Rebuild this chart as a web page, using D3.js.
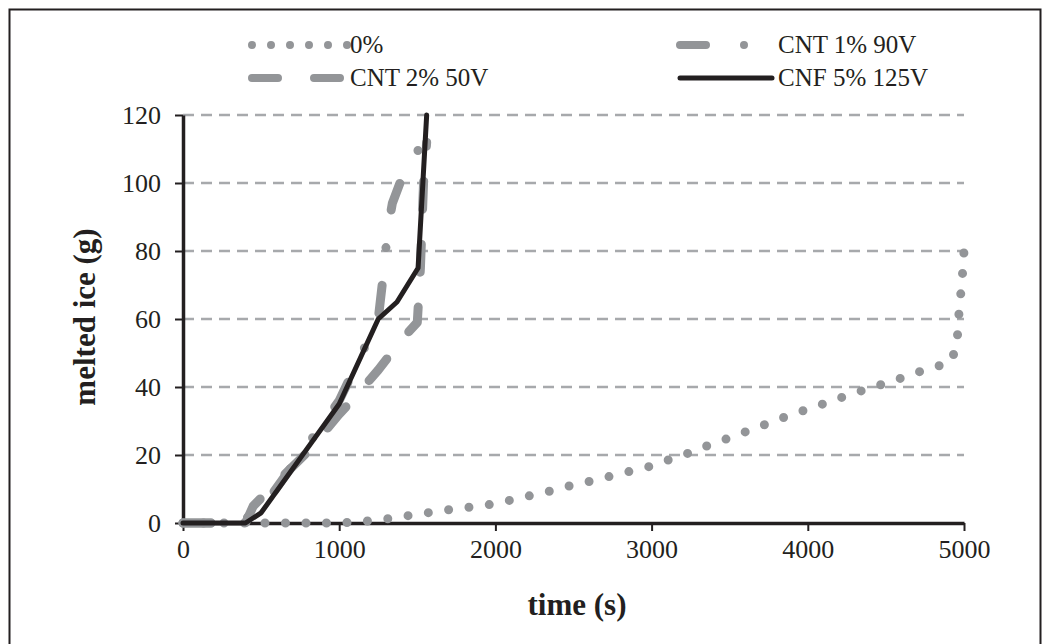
<!DOCTYPE html>
<html>
<head>
<meta charset="utf-8">
<script src="https://cdn.jsdelivr.net/npm/d3@7"></script>
<style>
  body { margin: 0; background: #fff; }
  svg { display: block; }
  svg text { font-family: "Liberation Serif", "DejaVu Serif", serif !important; fill: #231f20; }
</style>
</head>
<body>
<div id="chart"></div>
<script>
// melted ice (g) vs time (s)
const seriesNames = ['0%', 'CNT 1% 90V', 'CNT 2% 50V', 'CNF 5% 125V']

const time0 = [0, 500, 1000, 1250, 1389, 1505, 1639, 1773, 1914, 2049, 2177, 2311, 2445, 2580, 2714, 2843, 2977, 3105, 3239, 3367, 3496, 3617, 3745, 3873, 4001, 4135, 4257, 4398, 4526, 4654, 4782, 4910, 4955, 4962, 4974, 4987, 4996, 5000]
const ice0 = [0, 0, 0, 0.8, 1.8, 2.6, 3.5, 4.4, 5.0, 6.2, 7.6, 8.9, 10.6, 12.0, 13.5, 15.0, 16.5, 18.5, 20.6, 22.9, 25.0, 27.1, 29.3, 31.5, 33.5, 35.6, 37.6, 39.7, 41.5, 43.5, 45.6, 47.0, 52.0, 58.5, 65.0, 71.0, 77.0, 80.0]

const timeCnt1 = [0, 350, 500, 750, 1000, 1250, 1280, 1310, 1340, 1430, 1560]
const iceCnt1 = [0, 0, 4, 20, 36, 60, 72, 86, 94, 105, 113]

const timeCnt2 = [0, 400, 450, 600, 800, 1000, 1100, 1250, 1400, 1500, 1520, 1540, 1560]
const iceCnt2 = [0, 0, 5, 12, 21, 32, 37, 45, 54, 59, 75, 100, 112]

const timeCnf = [0, 400, 500, 750, 1000, 1250, 1370, 1505, 1560]
const iceCnf = [0, 0, 3, 19, 35, 60, 65, 75, 120]

const xTicks = [0, 1000, 2000, 3000, 4000, 5000]
const yTicks = [0, 20, 40, 60, 80, 100, 120]

const grey = '#939598'
const dark = '#231f20'
const serif = '"Liberation Serif", "DejaVu Serif", serif'

const W = 1051, H = 644
const svg = d3.select('#chart').append('svg')
  .attr('width', W)
  .attr('height', H)
  .attr('font-family', serif)

// outer frame
svg.append('rect')
  .attr('x', 9.5).attr('y', 9.5)
  .attr('width', 1031).attr('height', 660)
  .attr('fill', 'none')
  .attr('stroke', dark)
  .attr('stroke-width', 2)

const x = d3.scaleLinear().domain([0, 5000]).range([183, 964])
const y = d3.scaleLinear().domain([0, 120]).range([523, 115])

// grid
svg.append('g')
  .selectAll('line')
  .data(yTicks.filter(d => d > 0))
  .enter()
  .append('line')
  .attr('x1', x(0)).attr('x2', x(5000))
  .attr('y1', d => y(d)).attr('y2', d => y(d))
  .attr('stroke', '#a7a9ac')
  .attr('stroke-width', 2.5)
  .attr('stroke-dasharray', '11 7')

// axes
const xAxis = svg.append('g')
  .attr('transform', 'translate(0,' + y(0) + ')')
  .call(d3.axisBottom(x).tickValues(xTicks).tickFormat(d3.format('d')).tickSize(8).tickSizeOuter(0).tickPadding(9))
  .attr('font-family', serif)
xAxis.select('.domain').attr('stroke', dark).attr('stroke-width', 3.5)
xAxis.selectAll('.tick line').attr('stroke', dark).attr('stroke-width', 2)
xAxis.selectAll('text').attr('font-size', 26).style('fill', dark)

const yAxis = svg.append('g')
  .attr('transform', 'translate(' + x(0) + ',0)')
  .call(d3.axisLeft(y).tickValues(yTicks).tickFormat(d3.format('d')).tickSize(8).tickSizeOuter(0).tickPadding(14))
  .attr('font-family', serif)
yAxis.select('.domain').attr('stroke', dark).attr('stroke-width', 3.5)
yAxis.selectAll('.tick line').attr('stroke', dark).attr('stroke-width', 2)
yAxis.selectAll('text').attr('font-size', 26).style('fill', dark)

// axis titles
svg.append('text')
  .attr('x', 577).attr('y', 615)
  .attr('text-anchor', 'middle')
  .attr('font-size', 31).attr('font-weight', 'bold')
  .text('time (s)')

svg.append('text')
  .attr('transform', 'translate(95,317) rotate(-90)')
  .attr('text-anchor', 'middle')
  .attr('font-size', 31).attr('font-weight', 'bold')
  .text('melted ice (g)')

const line = d3.line().x(d => x(d[0])).y(d => y(d[1]))
const zip = (a, b) => a.map((v, i) => [v, b[i]])

const styles = [
  { color: grey, width: 9, dash: '0 20.5' },
  { color: grey, width: 9, dash: '28 38 0 38' },
  { color: grey, width: 9, dash: '28 35' },
  { color: dark, width: 5, dash: null }
]
const datasets = [zip(time0, ice0), zip(timeCnt1, iceCnt1), zip(timeCnt2, iceCnt2), zip(timeCnf, iceCnf)]

datasets.forEach((d, i) => {
  svg.append('path')
    .datum(d)
    .attr('d', line)
    .attr('fill', 'none')
    .attr('stroke', styles[i].color)
    .attr('stroke-width', styles[i].width)
    .attr('stroke-linecap', 'round')
    .attr('stroke-linejoin', 'round')
    .attr('stroke-dasharray', styles[i].dash)
})

// legend
const legendPos = [[248, 45, 350], [677, 45, 778], [250, 78, 350], [679, 78, 778]]
const legendSamples = [
  { x1: 252, x2: 347.5, dash: '0 19' },
  { x1: 680, x2: 770, dash: '26 38 0 50' },
  { x1: 252, x2: 345, dash: '26 36' },
  { x1: 680, x2: 772, dash: null }
]
seriesNames.forEach((name, i) => {
  const p = legendPos[i]
  const s = legendSamples[i]
  svg.append('line')
    .attr('x1', s.x1).attr('x2', s.x2)
    .attr('y1', p[1]).attr('y2', p[1])
    .attr('stroke', styles[i].color)
    .attr('stroke-width', i === 3 ? 5 : 8)
    .attr('stroke-linecap', 'round')
    .attr('stroke-dasharray', s.dash)
  svg.append('text')
    .attr('x', p[2]).attr('y', p[1] + 8)
    .attr('font-size', 25)
    .text(name)
})
</script>
</body>
</html>
